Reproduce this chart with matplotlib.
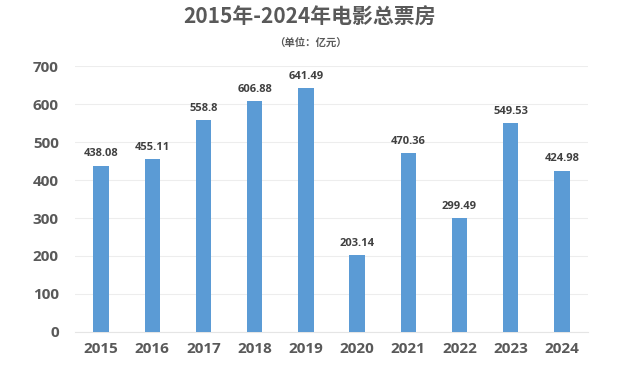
import matplotlib
matplotlib.use("Agg")
import matplotlib.pyplot as plt

plt.rcParams["font.family"] = ["Noto Sans CJK SC", "DejaVu Sans"]

YEARS = ["2015", "2016", "2017", "2018", "2019", "2020", "2021", "2022", "2023", "2024"]
BOX_OFFICE = [438.08, 455.11, 558.8, 606.88, 641.49, 203.14, 470.36, 299.49, 549.53, 424.98]
LABELS = ["438.08", "455.11", "558.8", "606.88", "641.49", "203.14", "470.36", "299.49", "549.53", "424.98"]
YTICKS = [0, 100, 200, 300, 400, 500, 600, 700]
NUM_FONT = ["Open Sans", "DejaVu Sans"]

fig = plt.figure(figsize=(6.2, 3.82), dpi=100)
ax = fig.add_axes([0.1216, 0.131, 0.826, 0.696])

x = range(len(YEARS))
ax.bar(x, BOX_OFFICE, width=0.3, color="#5B9BD5", zorder=3)
for i, (v, lab) in enumerate(zip(BOX_OFFICE, LABELS)):
    ax.text(i, v + 16, lab, ha="center", va="bottom", fontsize=8,
            fontweight="bold", color="#404040", family=NUM_FONT)

ax.set_xlim(-0.5, len(YEARS) - 0.5)
ax.set_ylim(0, 700)
ax.set_yticks(YTICKS)
ax.set_xticks(list(x))
ax.set_xticklabels(YEARS)
ax.grid(axis="y", color="#EDEDED", lw=0.8, zorder=0)
for s in ax.spines.values():
    s.set_visible(False)
ax.spines["bottom"].set_visible(True)
ax.spines["bottom"].set_color("#E5E5E5")
ax.tick_params(length=0, labelsize=11, labelcolor="#595959", pad=7)
for t in ax.get_xticklabels() + ax.get_yticklabels():
    t.set_fontweight("bold")
    t.set_family(NUM_FONT)
ax.tick_params(axis="y", pad=12)

fig.text(0.5, 0.955, "2015年-2024年电影总票房", ha="center", va="center",
         fontsize=15, fontweight="bold", color="#595959")
fig.text(0.5, 0.885, "（单位：亿元）", ha="center", va="center",
         fontsize=7.5, fontweight="bold", color="#595959")

fig.savefig("out.png", dpi=100)
